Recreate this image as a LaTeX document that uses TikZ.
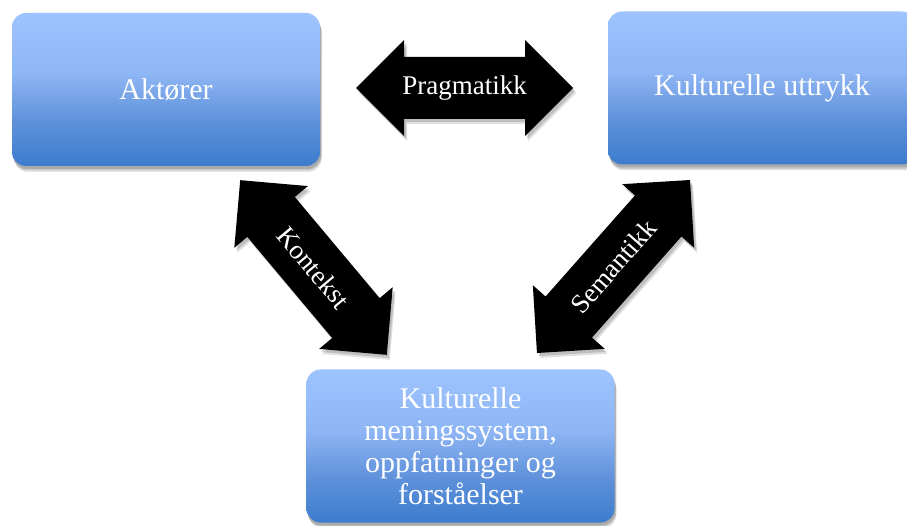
\documentclass[tikz,border=0pt]{standalone}
\usepackage{fontspec}
\setmainfont{Liberation Serif}
\usetikzlibrary{shadows}
\definecolor{boxtop}{RGB}{158,196,255}
\definecolor{boxmidA}{RGB}{142,181,244}
\definecolor{boxmidB}{RGB}{96,146,219}
\definecolor{boxbot}{RGB}{60,124,205}
\pgfdeclareverticalshading{boxshade}{100bp}{color(0bp)=(boxbot); color(25bp)=(boxbot); color(40bp)=(boxmidB); color(55bp)=(boxmidA); color(75bp)=(boxtop); color(100bp)=(boxtop)}
\tikzset{
  box/.style={rectangle, rounded corners=14pt, minimum width=308pt, minimum height=153pt,
    shading=boxshade, text=white, inner sep=4pt,
    font=\fontsize{30}{32}\selectfont, align=center,
    preaction={fill=black, opacity=.10, transform canvas={xshift=2pt,yshift=-6pt}},
    preaction={fill=black, opacity=.12, transform canvas={xshift=1.5pt,yshift=-4.5pt}},
    preaction={fill=black, opacity=.15, transform canvas={xshift=1pt,yshift=-3pt}}},
  arrowfill/.style={fill=black,
    preaction={fill=black, opacity=.12, transform canvas={xshift=3pt,yshift=-5pt}},
    preaction={fill=black, opacity=.15, transform canvas={xshift=2pt,yshift=-3pt}}},
  arrowtext/.style={text=white, font=\fontsize{27}{29}\selectfont, inner sep=0pt}
}
\newcommand\dblarrow[6]{%
  \begin{scope}[shift={(#2,#3)},rotate=#4]
    \fill[arrowfill] ({-#5/2},0) -- ({-#5/2+48},48) -- ({-#5/2+48},31) -- ({#5/2-48},31)
      -- ({#5/2-48},48) -- ({#5/2},0) -- ({#5/2-48},-48) -- ({#5/2-48},-31)
      -- ({-#5/2+48},-31) -- ({-#5/2+48},-48) -- cycle;
    \node[arrowtext, rotate=#4] (#1) at (0,0) {#6};
  \end{scope}}
\begin{document}
\begin{tikzpicture}[x=1pt,y=1pt]
\useasboundingbox (0,0) rectangle (907,525);
\fill[white] (0,0) rectangle (907,525);
\clip (0,0) rectangle (907,525);
\node[box] (akt) at (166,435.5) {Aktører};
\node[box] (utt) at (762,437) {Kulturelle uttrykk};
\node[box] (men) at (460.5,79) {Kulturelle\\meningssystem,\\oppfatninger og\\forståelser};
\dblarrow{prag}{464.5}{437}{0}{217}{Pragmatikk}
\dblarrow{kont}{313.5}{257.5}{-50}{228}{Kontekst}
\dblarrow{sem}{613.5}{258.5}{48.5}{231}{Semantikk}
\end{tikzpicture}
\end{document}
